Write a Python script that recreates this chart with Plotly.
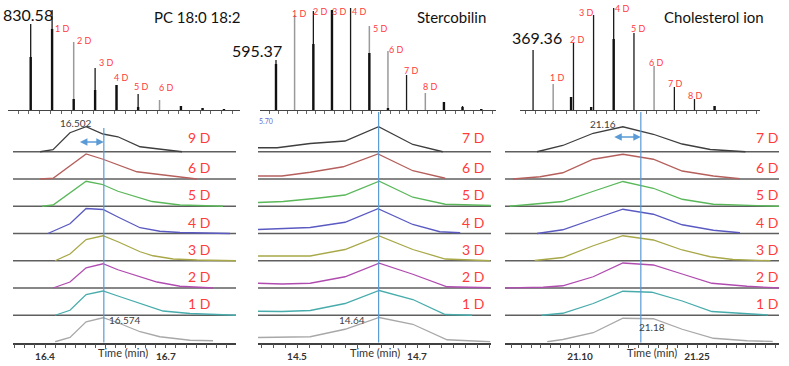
import numpy as np
import plotly.graph_objects as go

W, H = 789, 366
def px(x): return x / W
def py(y): return 1 - y / H

FONT = "Lato"

# ---------------- Mass spectra (m/z, relative intensity) ----------------
pc_mz = [830.58, 831.58, 832.59, 833.59, 834.59, 835.60, 836.60, 837.60, 838.61, 839.61]
pc_int = [86, 100, 68, 42, 25, 16, 10, 4, 2, 1]
pc_core = [53, 81, 11, 20, 25, 3, 0, 4, 2, 1]
pc_gray = [False, False, True, False, False, False, True, False, False, False]
pc_tags = ["", "1 D", "2 D", "3 D", "4 D", "5 D", "6 D", "", "", ""]

st_mz = [595.37, 596.37, 597.38, 598.38, 599.38, 600.39, 601.39, 602.39, 603.40, 604.40, 605.40, 606.41]
st_int = [50, 95, 99, 100, 102, 84, 59, 35, 17, 8, 4, 1]
st_core = [46, 0, 66, 100, 0, 57, 2, 0, 0, 8, 3, 1]
st_gray = [False, True, False, False, False, True, True, False, True, False, False, False]
st_tags = ["", "1 D", "2 D", "3 D", "4 D", "5 D", "6 D", "7 D", "8 D", "", "", ""]

ch_mz = [369.36, 370.36, 371.25, 371.37, 372.25, 372.37, 373.37, 374.38, 375.38, 376.39, 377.39, 378.39]
ch_int = [60, 26, 13, 67, 3, 95, 102, 77, 44, 23, 11, 4]
ch_core = [0, 0, 13, 0, 3, 0, 71, 0, 0, 0, 0, 4]
ch_gray = [False, True, False, False, False, False, False, False, True, False, False, False]
ch_tags = ["", "1 D", "", "2 D", "", "3 D", "4 D", "5 D", "6 D", "7 D", "8 D", ""]

spec_titles = ["PC 18:0 18:2", "Stercobilin", "Cholesterol ion"]
spec_mono = ["830.58", "595.37", "369.36"]

# ---------------- Extracted ion chromatograms ----------------
pc_rows = ["9 D", "6 D", "5 D", "4 D", "3 D", "2 D", "1 D", ""]
pc_t = [
    [16.388, 16.420, 16.462, 16.502, 16.544, 16.581, 16.636, 16.678, 16.740],
    [16.388, 16.420, 16.502, 16.544, 16.628, 16.740, 16.777],
    [16.393, 16.420, 16.502, 16.541, 16.581, 16.666, 16.735, 16.842],
    [16.407, 16.462, 16.502, 16.544, 16.581, 16.636, 16.685, 16.735, 16.859],
    [16.425, 16.462, 16.502, 16.544, 16.581, 16.636, 16.668, 16.718, 16.777, 16.874],
    [16.420, 16.462, 16.502, 16.544, 16.581, 16.628, 16.678, 16.735, 16.817],
    [16.425, 16.462, 16.502, 16.544, 16.581, 16.636, 16.693, 16.760, 16.814, 16.874],
    [16.425, 16.462, 16.502, 16.544, 16.581, 16.636, 16.685, 16.760, 16.817],
]
pc_i = [
    [0, 8, 76, 100, 71, 60, 20, 11, 0],
    [0, 3, 100, 79, 29, 5, 0],
    [0, 5, 100, 88, 60, 19, 5, 0],
    [0, 39, 100, 96, 66, 23, 9, 4, 0],
    [0, 27, 85, 100, 76, 36, 20, 7, 3, 0],
    [0, 24, 81, 97, 73, 48, 24, 7, 0],
    [0, 20, 83, 97, 77, 47, 17, 7, 4, 0],
    [3, 20, 83, 99, 79, 43, 23, 9, 7],
]

st_rows = ["7 D", "6 D", "5 D", "4 D", "3 D", "2 D", "1 D", ""]
st_t = [
    [14.435, 14.467, 14.522, 14.580, 14.636, 14.693, 14.743],
    [14.435, 14.475, 14.522, 14.577, 14.635, 14.693, 14.747],
    [14.435, 14.477, 14.533, 14.580, 14.637, 14.693, 14.747, 14.823],
    [14.435, 14.475, 14.522, 14.580, 14.635, 14.693, 14.738, 14.772],
    [14.435, 14.522, 14.580, 14.637, 14.693, 14.747, 14.822],
    [14.435, 14.475, 14.522, 14.580, 14.637, 14.693, 14.750, 14.822],
    [14.435, 14.475, 14.522, 14.580, 14.637, 14.693, 14.747, 14.792],
    [14.435, 14.522, 14.580, 14.637, 14.693, 14.750, 14.822],
]
st_i = [
    [16, 16, 33, 43, 100, 29, 0],
    [12, 12, 27, 49, 100, 33, 3],
    [15, 19, 32, 45, 100, 36, 8, 3],
    [16, 19, 24, 45, 99, 36, 7, 3],
    [19, 19, 45, 99, 45, 7, 0],
    [19, 16, 19, 45, 99, 55, 5, 1],
    [16, 15, 19, 47, 99, 63, 3, 0],
    [20, 23, 53, 100, 73, 11, 3],
]

ch_rows = ["7 D", "6 D", "5 D", "4 D", "3 D", "2 D", "1 D", ""]
ch_t = [
    [21.045, 21.078, 21.117, 21.155, 21.194, 21.231, 21.267, 21.312],
    [21.014, 21.049, 21.078, 21.117, 21.155, 21.194, 21.231, 21.271, 21.305],
    [21.010, 21.078, 21.122, 21.155, 21.194, 21.231, 21.271, 21.355],
    [21.045, 21.078, 21.117, 21.155, 21.194, 21.231, 21.271, 21.305],
    [21.042, 21.078, 21.117, 21.155, 21.194, 21.231, 21.267, 21.296, 21.344],
    [21.004, 21.053, 21.078, 21.117, 21.155, 21.194, 21.231, 21.269, 21.314, 21.355],
    [21.051, 21.078, 21.117, 21.155, 21.192, 21.231, 21.269, 21.314, 21.341],
    [21.058, 21.078, 21.117, 21.155, 21.194, 21.231, 21.271, 21.314, 21.347],
]
ch_i = [
    [0, 25, 74, 100, 70, 31, 9, 0],
    [0, 9, 25, 79, 99, 79, 32, 12, 1],
    [0, 19, 65, 99, 72, 28, 8, 0],
    [0, 15, 57, 97, 77, 35, 13, 3],
    [1, 13, 60, 100, 83, 43, 16, 5, 0],
    [0, 3, 9, 45, 100, 92, 56, 19, 7, 0],
    [0, 8, 47, 96, 92, 57, 15, 8, 1],
    [3, 12, 39, 97, 95, 53, 17, 7, 4],
]

# apex / shift annotations
pc_apex = ["16.502", "16.574"]
st_apex = ["14.64"]
ch_apex = ["21.16", "21.18"]
mark_times = [16.546, 14.636, 21.178]          # vertical reference line
arrow_from = [16.483, None, 21.142]             # start of double arrow

time_ticks = [("16.4", 16.4), ("16.7", 16.7)], [("14.5", 14.5), ("14.7", 14.7)], [("21.10", 21.10), ("21.25", 21.25)]

# ---------------- styling / layout constants ----------------
row_colors = ["#3f3f3f", "#b5605c", "#5ab85a", "#5a5ac2", "#a8a848", "#b04cb0", "#48acac", "#a8a8a8"]
ROW_STEP = 109        # vertical offset between stacked traces (data units)
RED = "#ff3b3b"

spec_dom = [(8, 240), (260, 496), (520, 760)]
spec_rng = [(829.52, 840.36), (594.51, 607.20), (368.71, 380.65)]
chrom_dom = [(13, 236), (258, 491), (505, 779)]
chrom_rng = [(16.3206, 16.874), (14.435, 14.8233), (21.004, 21.355)]
minor_step = [0.025, 0.02, 0.0125]
spec_y_px = (110, 5)
chrom_y_px = (342.5, 118)
CHROM_YMAX = (chrom_y_px[0] - chrom_y_px[1]) * 4

fig = go.Figure()
layout = dict(width=W, height=H, margin=dict(l=0, r=0, t=0, b=0),
              paper_bgcolor="white", plot_bgcolor="white", showlegend=False,
              font=dict(family=FONT, color="#222"))
annotations = []
shapes = []

spectra = [
    (pc_mz, pc_int, pc_core, pc_gray, pc_tags,
     [(0, 0), (10, -18), (11, 2), (11, 6), (5, 8), (3, 8), (7, 13), (0, 0), (0, 0), (0, 0)], (-3, 10)),
    (st_mz, st_int, st_core, st_gray, st_tags,
     [(0, 0), (5, 2), (7, 0), (8, -1), (9, -3), (11, -2), (9, 2), (5, 5), (5, 7), (0, 0), (0, 0), (0, 0)], (-19, 10)),
    (ch_mz, ch_int, ch_core, ch_gray, ch_tags,
     [(0, 0), (4, 7), (0, 0), (4, 4), (0, 0), (-7, 3), (9, 0), (5, 5), (2, 4), (1, 4), (1, 4), (0, 0)], (4, 13)),
]

def sticks(mz, h, keep):
    xs, ys = [], []
    for m, v, k in zip(mz, h, keep):
        if k and v > 0:
            xs += [m, m, None]
            ys += [0, v, None]
    return xs, ys

title_px = [(197, 17), (451, 17), (714, 17)]

for p, (mz, inten, core, gray, tags, shifts, mono_shift) in enumerate(spectra):
    xa = "x" if p == 0 else f"x{p + 1}"
    ya = "y" if p == 0 else f"y{p + 1}"
    for keep, col, wid, vals in [([not g for g in gray], "#1a1a1a", 1.3, inten),
                                 (gray, "#9a9a9a", 1.5, inten),
                                 ([True] * len(mz), "#111111", 2.4, core)]:
        xs, ys = sticks(mz, vals, keep)
        fig.add_trace(go.Scatter(x=xs, y=ys, mode="lines", line=dict(color=col, width=wid),
                                 xaxis=xa, yaxis=ya, hoverinfo="skip"))
    for m, v, tg, (dx, dy) in zip(mz, inten, tags, shifts):
        if tg:
            annotations.append(dict(x=m, y=v, xref=xa, yref=ya, text=tg, showarrow=False,
                                    xshift=dx, yshift=dy, xanchor="center", yanchor="middle",
                                    font=dict(size=9, color=RED, family=FONT)))
    annotations.append(dict(x=mz[0], y=inten[0], xref=xa, yref=ya, text=spec_mono[p], showarrow=False,
                            xshift=mono_shift[0], yshift=mono_shift[1], xanchor="center", yanchor="middle",
                            font=dict(size=16, color="#111", family=FONT)))
    annotations.append(dict(x=px(title_px[p][0]), y=py(title_px[p][1]), xref="paper", yref="paper",
                            text=spec_titles[p], showarrow=False, xanchor="center", yanchor="middle",
                            font=dict(size=15, color="#111", family=FONT)))
    key = "xaxis" if p == 0 else f"xaxis{p + 1}"
    ykey = "yaxis" if p == 0 else f"yaxis{p + 1}"
    layout[key] = dict(domain=[px(spec_dom[p][0]), px(spec_dom[p][1])], range=list(spec_rng[p]),
                       anchor=ya, showline=True, linecolor="#444", linewidth=1, ticks="outside",
                       ticklen=3, tickcolor="#666", dtick=0.5, tick0=0, showticklabels=False,
                       showgrid=False, zeroline=False, fixedrange=True)
    layout[ykey] = dict(domain=[py(spec_y_px[0]), py(spec_y_px[1])], range=[0, 105], visible=False,
                        fixedrange=True)

chroms = [(pc_rows, pc_t, pc_i, 199), (st_rows, st_t, st_i, 473), (ch_rows, ch_t, ch_i, 767)]
timelab_px = [123, 375, 652]

for p, (rows, ts, ins, lab_x) in enumerate(chroms):
    n = p + 4
    xa, ya = f"x{n}", f"y{n}"
    nrow = len(rows)
    for k in range(nrow):
        off = (nrow - 1 - k) * ROW_STEP
        if k < nrow - 1:
            fig.add_trace(go.Scatter(x=list(chrom_rng[p]), y=[off, off], mode="lines",
                                     line=dict(color="#5f5f5f", width=1.5),
                                     xaxis=xa, yaxis=ya, hoverinfo="skip"))
        fig.add_trace(go.Scatter(x=ts[k], y=[off + v for v in ins[k]], mode="lines",
                                 line=dict(color=row_colors[k], width=1.3),
                                 xaxis=xa, yaxis=ya, hoverinfo="skip"))
        if rows[k]:
            lift = 14 if k == 0 else 11.5
            annotations.append(dict(x=px(lab_x), y=off, xref="paper", yref=ya, text=rows[k],
                                    showarrow=False, yshift=lift, xanchor="center", yanchor="middle",
                                    font=dict(size=14, color=RED, family=FONT)))
    # reference line
    top_px = 128 if p == 0 else 112
    shapes.append(dict(type="line", xref=xa, yref="paper", x0=mark_times[p], x1=mark_times[p],
                       y0=py(chrom_y_px[0]), y1=py(top_px), line=dict(color="#5b9bd5", width=1.2)))
    # time axis
    lo, hi = chrom_rng[p]
    st = minor_step[p]
    tv = [round(v, 4) for v in np.arange(np.ceil(lo / st) * st, hi + 1e-9, st)]
    labs = dict((round(v, 4), s) for s, v in time_ticks[p])
    tt = [labs.get(v, "") for v in tv]
    layout[f"xaxis{n}"] = dict(domain=[px(chrom_dom[p][0]), px(chrom_dom[p][1])], range=[lo, hi],
                               anchor=ya, showline=True, linecolor="#404040", linewidth=1.5,
                               ticks="outside", ticklen=4, tickcolor="#555", tickmode="array",
                               tickvals=tv, ticktext=tt, showgrid=False, zeroline=False,
                               tickfont=dict(size=10, color="#333", family=FONT, weight="bold"),
                               fixedrange=True)
    layout[f"yaxis{n}"] = dict(domain=[py(chrom_y_px[0]), py(chrom_y_px[1])], range=[0, CHROM_YMAX],
                               visible=False, fixedrange=True)
    annotations.append(dict(x=px(timelab_px[p]), y=py(352), xref="paper", yref="paper",
                            text="Time (min)", showarrow=False, xanchor="center", yanchor="middle",
                            font=dict(size=11, color="#333", family=FONT)))
    # double arrow
    if arrow_from[p] is not None:
        ypx = 142 if p == 0 else 137
        yv = (chrom_y_px[0] - ypx) * 4
        annotations.append(dict(x=mark_times[p], y=yv, ax=arrow_from[p], ay=yv, xref=xa, yref=ya,
                                axref=xa, ayref=ya, text="", showarrow=True, arrowhead=2,
                                startarrowhead=2, arrowside="end+start", arrowsize=1,
                                startarrowsize=1, arrowwidth=1.5, arrowcolor="#5b9bd5"))

# apex text labels
apex_px = [(pc_apex[0], 76, 123), (pc_apex[1], 125, 320), (st_apex[0], 352, 320),
           (ch_apex[0], 603, 124), (ch_apex[1], 652, 327)]
for txt, xx, yy in apex_px:
    annotations.append(dict(x=px(xx), y=py(yy), xref="paper", yref="paper", text=txt, showarrow=False,
                            xanchor="center", yanchor="middle", font=dict(size=10, color="#404040", family=FONT)))
annotations.append(dict(x=px(266), y=py(121), xref="paper", yref="paper", text="5.70", showarrow=False,
                        xanchor="center", yanchor="middle", font=dict(size=7, color="#6a6ad0", family=FONT)))

layout["annotations"] = annotations
layout["shapes"] = shapes
fig.update_layout(**layout)
fig.write_html("out.html")
